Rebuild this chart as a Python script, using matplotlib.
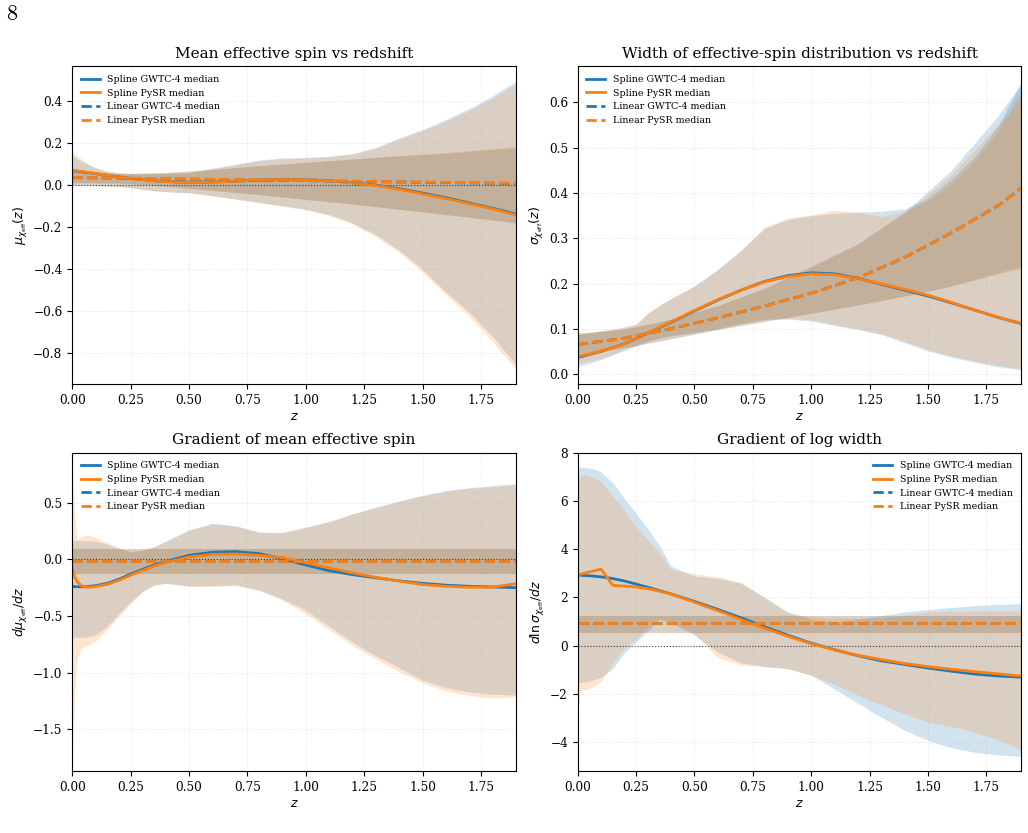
import numpy as np
import matplotlib.pyplot as plt

# ==========================
# redshift grids
# ==========================

Z = [0.0, 0.01, 0.02, 0.04, 0.07, 0.1, 0.15, 0.2, 0.25, 0.3, 0.35, 0.4, 0.5,
     0.6, 0.7, 0.8, 0.9, 1.0, 1.1, 1.2, 1.3, 1.4, 1.5, 1.6, 1.7, 1.8, 1.9]
Z_LIN = [0.0, 0.2, 0.4, 0.6, 0.8, 1.0, 1.2, 1.4, 1.6, 1.8, 1.9]

# ==========================
# mean effective spin
# ==========================

MU_SPL_G_MED = [0.068, 0.067, 0.066, 0.063, 0.059, 0.055, 0.047, 0.039, 0.032, 0.026, 0.021, 0.017, 0.014,
                0.015, 0.019, 0.024, 0.026, 0.025, 0.021, 0.012, 0.000, -0.017, -0.038, -0.060, -0.085, -0.110, -0.138]
MU_SPL_P_MED = [0.071, 0.070, 0.068, 0.065, 0.060, 0.055, 0.047, 0.039, 0.032, 0.026, 0.021, 0.017, 0.014,
                0.015, 0.019, 0.024, 0.026, 0.025, 0.020, 0.011, -0.002, -0.020, -0.042, -0.064, -0.088, -0.113, -0.142]
MU_SPL_G_HI = [0.140, 0.135, 0.128, 0.115, 0.097, 0.082, 0.066, 0.058, 0.055, 0.054, 0.055, 0.056, 0.060,
               0.080, 0.100, 0.120, 0.130, 0.132, 0.138, 0.150, 0.180, 0.225, 0.265, 0.313, 0.365, 0.425, 0.496]
MU_SPL_P_HI = [0.158, 0.150, 0.140, 0.122, 0.100, 0.084, 0.067, 0.058, 0.055, 0.054, 0.055, 0.056, 0.060,
               0.078, 0.097, 0.115, 0.125, 0.129, 0.135, 0.147, 0.175, 0.220, 0.260, 0.305, 0.355, 0.415, 0.483]
MU_SPL_G_LO = [0.000, 0.000, 0.000, -0.001, -0.002, -0.003, -0.005, -0.007, -0.012, -0.020, -0.027, -0.031, -0.036,
               -0.050, -0.066, -0.082, -0.098, -0.115, -0.140, -0.180, -0.235, -0.310, -0.400, -0.510, -0.605, -0.720, -0.855]
MU_SPL_P_LO = [0.003, 0.002, 0.001, 0.000, -0.002, -0.003, -0.005, -0.007, -0.012, -0.020, -0.027, -0.031, -0.037,
               -0.051, -0.067, -0.084, -0.100, -0.118, -0.145, -0.185, -0.245, -0.320, -0.415, -0.520, -0.625, -0.745, -0.880]

MU_LIN_G_MED = [0.036, 0.033, 0.030, 0.027, 0.024, 0.021, 0.018, 0.015, 0.012, 0.009, 0.008]
MU_LIN_P_MED = [0.037, 0.034, 0.031, 0.028, 0.025, 0.022, 0.019, 0.016, 0.013, 0.010, 0.009]
MU_LIN_G_HI = [0.062, 0.055, 0.060, 0.075, 0.092, 0.108, 0.124, 0.140, 0.152, 0.170, 0.178]
MU_LIN_P_HI = [0.062, 0.055, 0.060, 0.075, 0.092, 0.108, 0.124, 0.140, 0.156, 0.175, 0.185]
MU_LIN_G_LO = [0.012, 0.010, -0.005, -0.025, -0.045, -0.068, -0.090, -0.115, -0.140, -0.165, -0.178]
MU_LIN_P_LO = [0.012, 0.010, -0.005, -0.025, -0.045, -0.068, -0.090, -0.115, -0.140, -0.168, -0.182]

# ==========================
# width of the distribution
# ==========================

SIG_SPL_G_MED = [0.038, 0.039, 0.040, 0.043, 0.047, 0.051, 0.059, 0.068, 0.079, 0.091, 0.103, 0.115, 0.140,
                 0.164, 0.186, 0.205, 0.218, 0.224, 0.222, 0.212, 0.199, 0.186, 0.173, 0.158, 0.142, 0.126, 0.112]
SIG_SPL_P_MED = [0.040, 0.041, 0.042, 0.044, 0.048, 0.052, 0.059, 0.068, 0.079, 0.091, 0.104, 0.116, 0.141,
                 0.165, 0.186, 0.204, 0.216, 0.222, 0.220, 0.211, 0.200, 0.188, 0.175, 0.159, 0.142, 0.126, 0.113]
SIG_SPL_G_HI = [0.088, 0.089, 0.090, 0.091, 0.093, 0.096, 0.100, 0.104, 0.110, 0.135, 0.152, 0.167, 0.195,
                0.232, 0.275, 0.322, 0.342, 0.350, 0.355, 0.358, 0.360, 0.365, 0.388, 0.430, 0.480, 0.547, 0.646]
SIG_SPL_P_HI = [0.092, 0.092, 0.092, 0.093, 0.094, 0.096, 0.100, 0.105, 0.112, 0.135, 0.153, 0.168, 0.195,
                0.230, 0.272, 0.325, 0.345, 0.352, 0.362, 0.358, 0.348, 0.360, 0.382, 0.420, 0.470, 0.535, 0.628]
SIG_SPL_G_LO = [0.018, 0.019, 0.021, 0.024, 0.028, 0.033, 0.043, 0.053, 0.063, 0.073, 0.080, 0.085, 0.092,
                0.101, 0.112, 0.121, 0.122, 0.118, 0.108, 0.099, 0.088, 0.070, 0.052, 0.038, 0.027, 0.017, 0.010]
SIG_SPL_P_LO = [0.026, 0.026, 0.027, 0.029, 0.032, 0.036, 0.045, 0.055, 0.064, 0.074, 0.081, 0.086, 0.094,
                0.100, 0.113, 0.123, 0.124, 0.120, 0.110, 0.101, 0.090, 0.073, 0.055, 0.041, 0.030, 0.020, 0.013]

SIG_LIN_G_MED = [0.066, 0.080, 0.101, 0.125, 0.151, 0.179, 0.213, 0.258, 0.312, 0.372, 0.411]
SIG_LIN_P_MED = [0.066, 0.080, 0.101, 0.125, 0.151, 0.179, 0.213, 0.258, 0.312, 0.372, 0.411]
SIG_LIN_G_HI = [0.090, 0.100, 0.122, 0.152, 0.190, 0.238, 0.288, 0.358, 0.450, 0.570, 0.640]
SIG_LIN_P_HI = [0.090, 0.100, 0.122, 0.152, 0.190, 0.238, 0.288, 0.355, 0.440, 0.550, 0.605]
SIG_LIN_G_LO = [0.046, 0.059, 0.079, 0.099, 0.117, 0.135, 0.153, 0.173, 0.195, 0.224, 0.238]
SIG_LIN_P_LO = [0.046, 0.059, 0.079, 0.099, 0.117, 0.135, 0.153, 0.173, 0.195, 0.222, 0.232]

# ==========================
# gradient of the mean
# ==========================

DMU_SPL_G_MED = [-0.241, -0.241, -0.242, -0.242, -0.240, -0.232, -0.212, -0.175, -0.130, -0.090, -0.050, -0.020, 0.035,
                 0.062, 0.068, 0.050, 0.005, -0.050, -0.100, -0.135, -0.163, -0.190, -0.212, -0.228, -0.238, -0.244, -0.250]
DMU_SPL_P_MED = [-0.080, -0.150, -0.195, -0.235, -0.247, -0.240, -0.220, -0.185, -0.140, -0.100, -0.060, -0.028, 0.020,
                 0.043, 0.047, 0.035, 0.015, -0.030, -0.075, -0.120, -0.158, -0.192, -0.222, -0.238, -0.246, -0.245, -0.215]
DMU_SPL_G_HI = [0.165, 0.165, 0.165, 0.164, 0.162, 0.158, 0.135, 0.095, 0.068, 0.080, 0.110, 0.160, 0.260,
                0.318, 0.295, 0.240, 0.235, 0.280, 0.330, 0.400, 0.460, 0.515, 0.565, 0.605, 0.632, 0.650, 0.665]
DMU_SPL_P_HI = [0.810, 0.400, 0.170, 0.205, 0.210, 0.195, 0.145, 0.100, 0.070, 0.080, 0.110, 0.158, 0.255,
                0.312, 0.292, 0.238, 0.238, 0.285, 0.335, 0.400, 0.455, 0.510, 0.560, 0.600, 0.625, 0.640, 0.660]
DMU_SPL_G_LO = [-0.691, -0.690, -0.690, -0.688, -0.680, -0.668, -0.590, -0.480, -0.374, -0.280, -0.225, -0.210, -0.235,
                -0.232, -0.226, -0.270, -0.350, -0.447, -0.590, -0.730, -0.850, -0.955, -1.065, -1.130, -1.170, -1.188, -1.197]
DMU_SPL_P_LO = [-1.740, -1.200, -0.880, -0.780, -0.760, -0.720, -0.620, -0.500, -0.390, -0.290, -0.230, -0.212, -0.240,
                -0.240, -0.230, -0.275, -0.360, -0.480, -0.620, -0.760, -0.880, -0.990, -1.090, -1.160, -1.200, -1.225, -1.212]

# linear model: constant gradient (median, lower, upper)
DMU_LIN_G = (-0.015, -0.132, 0.094)
DMU_LIN_P = (-0.015, -0.132, 0.094)

# ==========================
# gradient of log width
# ==========================

DLS_SPL_G_MED = [2.92, 2.92, 2.91, 2.90, 2.88, 2.85, 2.78, 2.68, 2.55, 2.42, 2.28, 2.14, 1.83,
                 1.50, 1.15, 0.78, 0.43, 0.10, -0.17, -0.42, -0.63, -0.78, -0.93, -1.06, -1.18, -1.26, -1.31]
DLS_SPL_P_MED = [2.92, 2.95, 2.98, 3.03, 3.10, 3.17, 2.50, 2.47, 2.43, 2.36, 2.26, 2.13, 1.80,
                 1.45, 1.08, 0.72, 0.39, 0.08, -0.18, -0.40, -0.58, -0.74, -0.87, -0.98, -1.08, -1.17, -1.26]
DLS_SPL_G_HI = [7.39, 7.40, 7.40, 7.38, 7.32, 7.20, 6.75, 6.10, 5.48, 4.85, 4.15, 3.30, 2.88,
                2.79, 2.58, 2.00, 1.40, 1.08, 0.98, 1.10, 1.25, 1.40, 1.49, 1.58, 1.66, 1.71, 1.74]
DLS_SPL_P_HI = [6.86, 7.00, 7.07, 7.07, 6.95, 6.80, 6.20, 5.60, 4.92, 4.40, 3.85, 3.15, 2.98,
                2.85, 2.62, 2.00, 1.35, 1.19, 1.12, 1.12, 1.14, 1.26, 1.40, 1.43, 1.44, 1.44, 1.44]
DLS_SPL_G_LO = [-1.54, -1.53, -1.52, -1.48, -1.42, -1.32, -0.95, -0.30, 0.15, 0.60, 1.08, 0.94, 0.43,
                -0.27, -0.72, -0.86, -0.96, -1.23, -1.80, -2.39, -2.97, -3.51, -3.93, -4.24, -4.42, -4.53, -4.59]
DLS_SPL_P_LO = [-2.82, -1.95, -1.85, -1.80, -1.68, -1.50, -0.75, -0.10, 0.29, 0.75, 1.10, 0.98, 0.50,
                -0.50, -0.80, -0.88, -0.95, -1.23, -1.60, -2.05, -2.45, -2.82, -3.17, -3.35, -3.60, -3.90, -4.32]

DLS_LIN_G = (0.93, 0.526, 1.245)
DLS_LIN_P = (0.93, 0.526, 1.245)

# ==========================
# style
# ==========================

BLUE = "#1f77b4"
ORANGE = "#ff7f0e"
plt.rcParams["font.family"] = "serif"


def draw_panel(ax, spl_g, spl_p, lin_g, lin_p, title, ylabel, ylim,
               zero_line=True, legend_loc="upper left"):
    # spline bands
    ax.fill_between(Z, spl_g[1], spl_g[2], color=BLUE, alpha=0.2, lw=0)
    ax.fill_between(Z, spl_p[1], spl_p[2], color=ORANGE, alpha=0.2, lw=0)

    # linear bands
    if np.ndim(lin_g[0]) == 0:
        ax.axhspan(lin_g[1], lin_g[2], color=BLUE, alpha=0.2, lw=0)
        ax.axhspan(lin_p[1], lin_p[2], color=ORANGE, alpha=0.2, lw=0)
    else:
        ax.fill_between(Z_LIN, lin_g[1], lin_g[2], color=BLUE, alpha=0.2, lw=0)
        ax.fill_between(Z_LIN, lin_p[1], lin_p[2], color=ORANGE, alpha=0.2, lw=0)

    if zero_line:
        ax.axhline(0, color="k", ls=":", lw=0.8, alpha=0.7)

    ax.plot(Z, spl_g[0], color=BLUE, lw=2, label="Spline GWTC-4 median")
    ax.plot(Z, spl_p[0], color=ORANGE, lw=2, label="Spline PySR median")
    if np.ndim(lin_g[0]) == 0:
        ax.axhline(lin_g[0], color=BLUE, lw=2, ls="--", label="Linear GWTC-4 median")
        ax.axhline(lin_p[0], color=ORANGE, lw=2, ls="--", label="Linear PySR median")
    else:
        ax.plot(Z_LIN, lin_g[0], color=BLUE, lw=2, ls="--", label="Linear GWTC-4 median")
        ax.plot(Z_LIN, lin_p[0], color=ORANGE, lw=2, ls="--", label="Linear PySR median")

    ax.set_xlim(0, 1.9)
    ax.set_ylim(*ylim)
    ax.set_title(title, fontsize=11)
    ax.set_xlabel(r"$z$", fontsize=9, labelpad=2)
    ax.set_ylabel(ylabel, fontsize=9, labelpad=2)
    ax.tick_params(labelsize=8.7)
    ax.grid(True, ls=":", lw=0.6, alpha=0.4)
    ax.legend(loc=legend_loc, fontsize=6.8, frameon=False)


fig = plt.figure(figsize=(10.28, 8.33), dpi=100)

ax1 = fig.add_axes([0.0703, 0.539, 0.4316, 0.3812])
ax2 = fig.add_axes([0.5620, 0.539, 0.4315, 0.3812])
ax3 = fig.add_axes([0.0703, 0.0744, 0.4316, 0.3822])
ax4 = fig.add_axes([0.5620, 0.0744, 0.4315, 0.3822])

draw_panel(ax1,
           (MU_SPL_G_MED, MU_SPL_G_LO, MU_SPL_G_HI),
           (MU_SPL_P_MED, MU_SPL_P_LO, MU_SPL_P_HI),
           (MU_LIN_G_MED, MU_LIN_G_LO, MU_LIN_G_HI),
           (MU_LIN_P_MED, MU_LIN_P_LO, MU_LIN_P_HI),
           "Mean effective spin vs redshift",
           r"$\mu_{\chi_{\rm eff}}(z)$", (-0.947, 0.565))

draw_panel(ax2,
           (SIG_SPL_G_MED, SIG_SPL_G_LO, SIG_SPL_G_HI),
           (SIG_SPL_P_MED, SIG_SPL_P_LO, SIG_SPL_P_HI),
           (SIG_LIN_G_MED, SIG_LIN_G_LO, SIG_LIN_G_HI),
           (SIG_LIN_P_MED, SIG_LIN_P_LO, SIG_LIN_P_HI),
           "Width of effective-spin distribution vs redshift",
           r"$\sigma_{\chi_{\rm eff}}(z)$", (-0.021, 0.679), zero_line=False)

draw_panel(ax3,
           (DMU_SPL_G_MED, DMU_SPL_G_LO, DMU_SPL_G_HI),
           (DMU_SPL_P_MED, DMU_SPL_P_LO, DMU_SPL_P_HI),
           DMU_LIN_G, DMU_LIN_P,
           "Gradient of mean effective spin",
           r"$d\mu_{\chi_{\rm eff}}/dz$", (-1.866, 0.94))

draw_panel(ax4,
           (DLS_SPL_G_MED, DLS_SPL_G_LO, DLS_SPL_G_HI),
           (DLS_SPL_P_MED, DLS_SPL_P_LO, DLS_SPL_P_HI),
           DLS_LIN_G, DLS_LIN_P,
           "Gradient of log width",
           r"$d\ln\sigma_{\chi_{\rm eff}}/dz$", (-5.2, 8.0), legend_loc="upper right")

# page number
fig.text(0.0117, 0.983, "8", fontfamily="cmr10", fontsize=16, ha="center", va="center")

fig.savefig("out.png", dpi=100)
